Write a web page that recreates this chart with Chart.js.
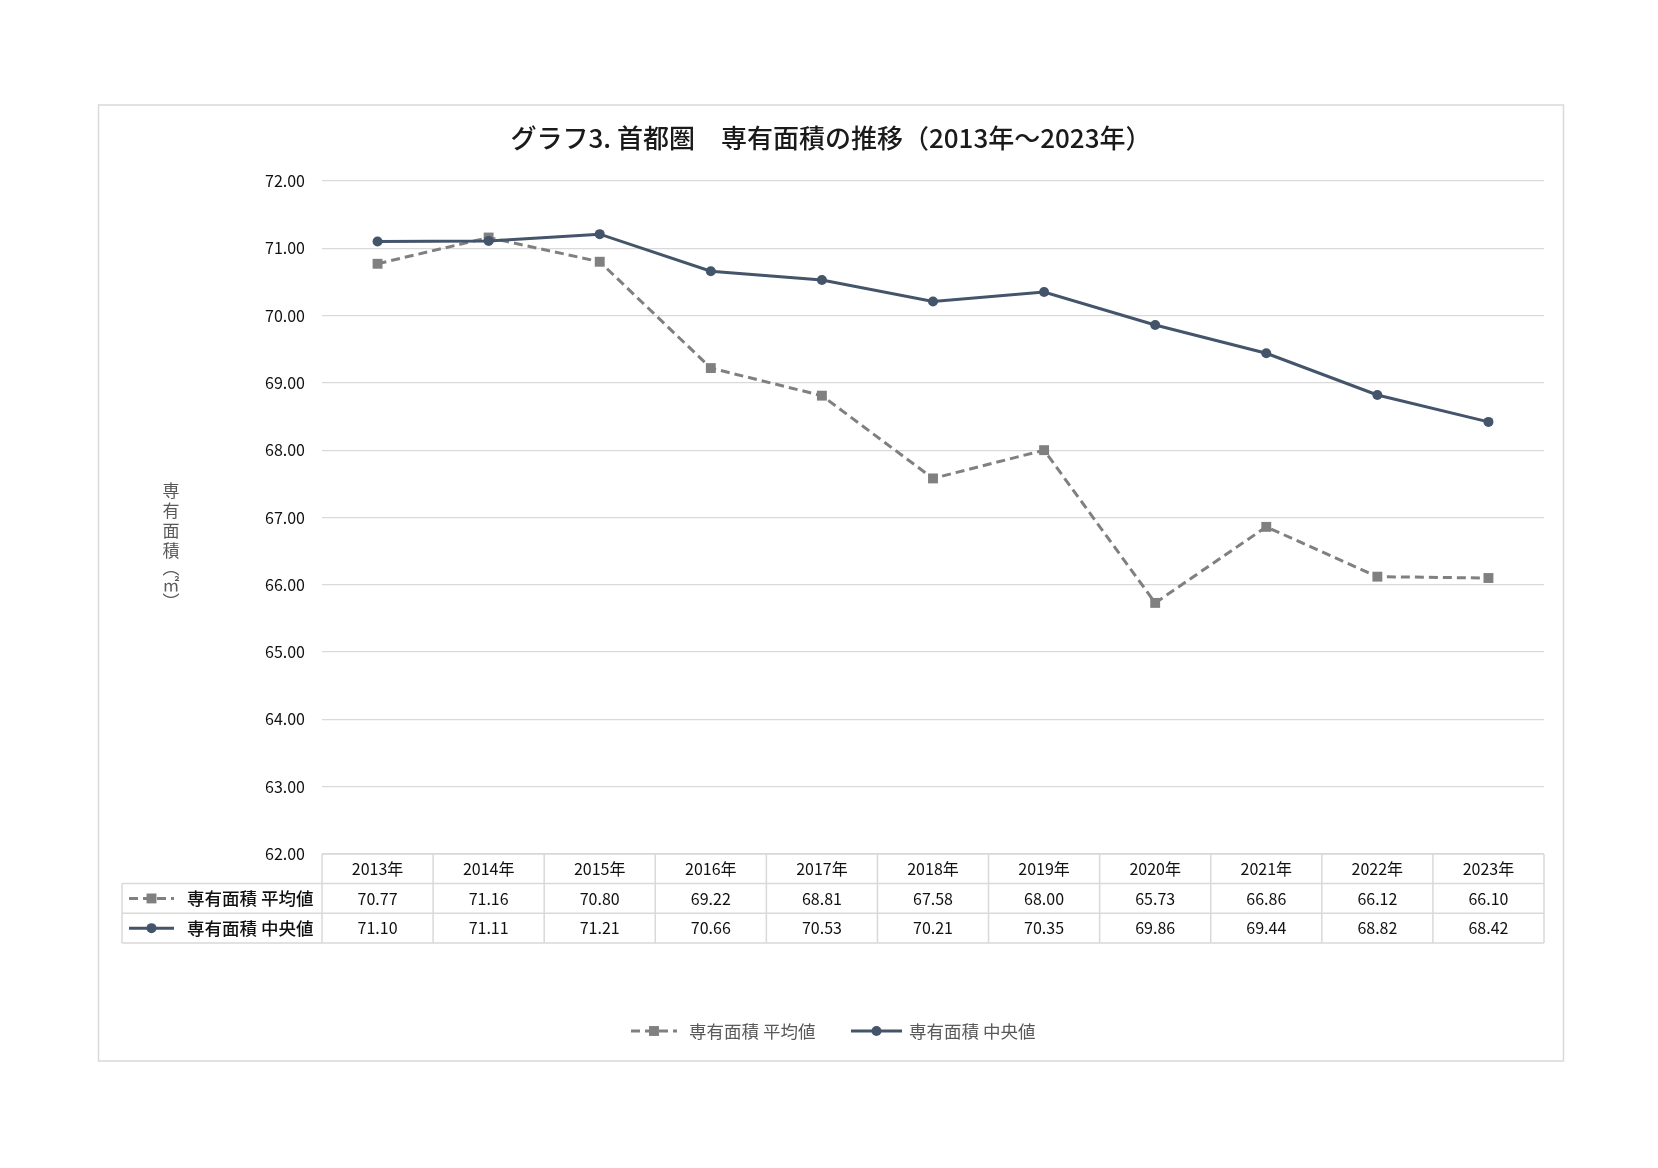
<!DOCTYPE html>
<html lang="ja">
<head>
<meta charset="UTF-8">
<title>グラフ3. 首都圏 専有面積の推移</title>
<script src="https://cdn.jsdelivr.net/npm/chart.js"></script>
<style>
  html, body { margin: 0; padding: 0; background: #fff; }
  #wrap { width: 1658px; height: 1168px; }
</style>
</head>
<body>
<div id="wrap"><canvas id="chart" width="1658" height="1168"></canvas></div>
<script>
// data
const years = ['2013年', '2014年', '2015年', '2016年', '2017年', '2018年', '2019年', '2020年', '2021年', '2022年', '2023年'];
const avgLabel = '専有面積 平均値';
const medLabel = '専有面積 中央値';
const avgValues = [70.77, 71.16, 70.80, 69.22, 68.81, 67.58, 68.00, 65.73, 66.86, 66.12, 66.10];
const medValues = [71.10, 71.11, 71.21, 70.66, 70.53, 70.21, 70.35, 69.86, 69.44, 68.82, 68.42];
const yMin = 62, yMax = 72, yStep = 1;
const titleText = 'グラフ3. 首都圏　専有面積の推移（2013年～2023年）';
const yTitleChars = ['専', '有', '面', '積', '︵', '㎡', '︶'];

const FONT = '"Noto Sans CJK JP", "Noto Sans", sans-serif';
const AVG_COLOR = '#808080';
const MED_COLOR = '#44546A';
const LINE_GRAY = '#D9D9D9';
const ROW_H = 29.7;

// sample of a series style (line + marker), used in the table and the legend
function drawSample(ctx, ds, x0, x1, y) {
  ctx.save();
  ctx.strokeStyle = ds.borderColor;
  ctx.lineWidth = ds.borderWidth;
  ctx.setLineDash(ds.borderDash || []);
  ctx.beginPath();
  ctx.moveTo(x0, y);
  ctx.lineTo(x1, y);
  ctx.stroke();
  ctx.setLineDash([]);
  ctx.fillStyle = ds.pointBackgroundColor;
  const cx = (x0 + x1) / 2;
  if (ds.pointStyle === 'rect') {
    const s = ds.pointRadius * Math.SQRT1_2;
    ctx.fillRect(cx - s, y - s, 2 * s, 2 * s);
  } else {
    ctx.beginPath();
    ctx.arc(cx, y, ds.pointRadius, 0, Math.PI * 2);
    ctx.fill();
  }
  ctx.restore();
}

const decorations = {
  id: 'decorations',
  beforeDraw(chart) {
    const ctx = chart.ctx;
    ctx.save();
    ctx.fillStyle = '#fff';
    ctx.fillRect(0, 0, chart.width, chart.height);
    ctx.strokeStyle = LINE_GRAY;
    ctx.lineWidth = 1.5;
    ctx.strokeRect(98.5, 105, 1465, 956);
    ctx.restore();
  },
  afterDraw(chart) {
    const ctx = chart.ctx;
    const area = chart.chartArea;
    const xs = chart.scales.x;
    const tableLeft = 122;
    const colW = (area.right - area.left) / years.length;
    ctx.save();

    // title
    ctx.fillStyle = '#1a1a1a';
    ctx.font = '500 26px ' + FONT;
    ctx.textAlign = 'center';
    ctx.textBaseline = 'middle';
    ctx.fillText(titleText, 831, 138);

    // vertical y axis title
    ctx.fillStyle = '#595959';
    ctx.font = '17px ' + FONT;
    let yy = 491;
    yTitleChars.forEach((ch, i) => {
      ctx.fillText(ch, 171, yy);
      yy += (i < 3) ? 20 : 17;
    });

    // data table grid
    const y0 = area.bottom, y1 = y0 + ROW_H, y2 = y1 + ROW_H, y3 = y2 + ROW_H;
    ctx.strokeStyle = LINE_GRAY;
    ctx.lineWidth = 1.5;
    ctx.beginPath();
    ctx.moveTo(area.left, y0); ctx.lineTo(area.right, y0);
    [y1, y2, y3].forEach(y => { ctx.moveTo(tableLeft, y); ctx.lineTo(area.right, y); });
    ctx.moveTo(tableLeft, y1); ctx.lineTo(tableLeft, y3);
    for (let i = 0; i <= years.length; i++) {
      const x = area.left + i * colW;
      ctx.moveTo(x, y0); ctx.lineTo(x, y3);
    }
    ctx.stroke();

    // table texts
    ctx.fillStyle = '#111';
    ctx.font = '16px ' + FONT;
    ctx.textAlign = 'center';
    years.forEach((yr, i) => {
      const x = xs.getPixelForValue(i);
      ctx.fillText(yr, x, (y0 + y1) / 2);
      ctx.fillText(avgValues[i].toFixed(2), x, (y1 + y2) / 2);
      ctx.fillText(medValues[i].toFixed(2), x, (y2 + y3) / 2);
    });
    const dsAvg = chart.data.datasets[0];
    const dsMed = chart.data.datasets[1];
    drawSample(ctx, dsAvg, 129, 174, (y1 + y2) / 2);
    drawSample(ctx, dsMed, 129, 174, (y2 + y3) / 2);
    ctx.fillStyle = '#111';
    ctx.font = '500 17.5px ' + FONT;
    ctx.textAlign = 'left';
    ctx.fillText(avgLabel, 187, (y1 + y2) / 2);
    ctx.fillText(medLabel, 187, (y2 + y3) / 2);

    // legend
    const ly = 1031;
    drawSample(ctx, dsAvg, 631, 677, ly);
    drawSample(ctx, dsMed, 851, 902, ly);
    ctx.fillStyle = '#595959';
    ctx.font = '17.5px ' + FONT;
    ctx.fillText(avgLabel, 689, ly);
    ctx.fillText(medLabel, 909, ly);

    ctx.restore();
  }
};

new Chart(document.getElementById('chart'), {
  type: 'line',
  data: {
    labels: years,
    datasets: [
      {
        label: avgLabel,
        data: avgValues,
        borderColor: AVG_COLOR,
        borderWidth: 3,
        borderDash: [9, 5],
        pointStyle: 'rect',
        pointRadius: 7,
        pointBackgroundColor: AVG_COLOR,
        pointBorderWidth: 0,
        tension: 0,
        order: 2
      },
      {
        label: medLabel,
        data: medValues,
        borderColor: MED_COLOR,
        borderWidth: 3,
        pointStyle: 'circle',
        pointRadius: 5,
        pointBackgroundColor: MED_COLOR,
        pointBorderWidth: 0,
        tension: 0,
        order: 1
      }
    ]
  },
  options: {
    responsive: false,
    animation: false,
    devicePixelRatio: 1,
    layout: { padding: { left: 117, right: 114, top: 181, bottom: 225 } },
    plugins: {
      legend: { display: false },
      title: { display: false },
      tooltip: { enabled: false }
    },
    scales: {
      x: {
        offset: true,
        ticks: { display: false },
        grid: { display: false },
        border: { display: false },
        afterFit(scale) { scale.height = 3 * ROW_H; }
      },
      y: {
        min: yMin,
        max: yMax,
        ticks: {
          stepSize: yStep,
          padding: 17,
          color: '#111',
          font: { family: FONT, size: 16 },
          callback: v => Number(v).toFixed(2)
        },
        grid: { color: LINE_GRAY, lineWidth: 1.2, drawTicks: false },
        border: { display: false },
        afterFit(scale) { scale.width = 205; }
      }
    }
  },
  plugins: [decorations]
});
</script>
</body>
</html>
